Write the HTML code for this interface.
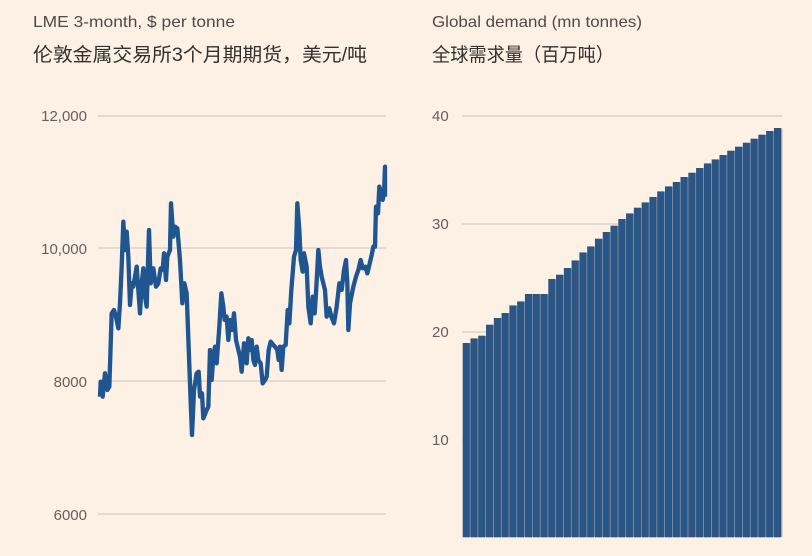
<!DOCTYPE html>
<html><head><meta charset="utf-8"><style>
body{margin:0;background:#fff1e5;}
svg{display:block}
text{font-family:"Liberation Sans","Noto Sans CJK SC",sans-serif}
</style></head><body>
<svg width="812" height="556" viewBox="0 0 812 556" xmlns="http://www.w3.org/2000/svg">
<rect width="812" height="556" fill="#fdf1e5"/>
<text x="33" y="27" font-size="16" fill="#4f4a46" textLength="202" lengthAdjust="spacingAndGlyphs">LME 3-month, $ per tonne</text>
<text x="33" y="61" font-size="19" fill="#33302e" textLength="334" lengthAdjust="spacingAndGlyphs">伦敦金属交易所3个月期期货，美元/吨</text>
<text x="432" y="27" font-size="16" fill="#4f4a46" textLength="210" lengthAdjust="spacingAndGlyphs">Global demand (mn tonnes)</text>
<text x="432" y="61" font-size="19" fill="#33302e" textLength="182" lengthAdjust="spacingAndGlyphs">全球需求量（百万吨）</text>
<g stroke="#cfc3b8" stroke-width="1">
<line x1="98" y1="116" x2="386" y2="116"/><line x1="98" y1="248" x2="386" y2="248"/>
<line x1="98" y1="381" x2="386" y2="381"/><line x1="98" y1="514" x2="386" y2="514"/>
<line x1="462" y1="116" x2="782" y2="116"/><line x1="462" y1="224" x2="782" y2="224"/>
<line x1="462" y1="332" x2="782" y2="332"/><line x1="462" y1="440" x2="782" y2="440"/>
</g>
<g font-size="15" fill="#66605c" text-anchor="end">
<text x="87" y="121">12,000</text><text x="87" y="254">10,000</text>
<text x="87" y="387">8000</text><text x="87" y="520">6000</text>
</g>
<g font-size="15" fill="#66605c">
<text x="432" y="121">40</text><text x="432" y="229">30</text>
<text x="432" y="337">20</text><text x="432" y="445">10</text>
</g>
<g transform="translate(90,150) scale(0.33333)">
<polyline fill="none" stroke="#1f5591" stroke-width="13" stroke-linejoin="round" points="30,740 32,695 38,740 45,670 52,720 58,710 65,490 72,480 78,500 85,535 90,460 95,350 100,215 105,300 110,245 115,320 120,465 125,400 130,410 140,350 145,420 150,490 155,400 160,355 165,440 170,470 177,240 182,400 190,355 198,410 205,400 212,355 218,360 222,310 228,390 232,320 240,300 243,160 250,260 255,230 262,235 270,330 277,460 283,400 290,430 297,620 303,780 306,855 312,720 320,670 326,665 330,740 336,730 340,805 350,780 355,770 360,600 365,690 370,620 375,590 380,640 388,530 394,430 400,470 404,510 410,500 415,570 420,510 426,540 432,490 438,570 444,595 450,620 455,665 462,580 470,640 475,565 480,600 485,570 490,630 495,645 500,590 505,630 512,640 518,700 525,690 530,680 536,600 542,575 550,585 555,590 562,600 566,630 570,590 575,660 580,590 587,585 593,480 598,520 604,420 612,320 618,300 622,160 628,240 632,330 638,365 642,310 650,350 655,470 662,520 668,440 674,490 678,430 685,300 690,350 695,380 705,420 710,500 718,475 724,500 732,520 740,470 748,400 755,420 762,360 768,330 772,400 775,540 780,460 790,410 798,380 805,360 812,330 818,355 826,350 832,370 838,345 845,315 850,290 855,290 858,170 864,190 868,110 874,130 878,150 882,130 885,50 885,140"/>
</g>
<g id="bgs" fill="#97a5b6"></g>
<g id="bars" fill="#27568a" stroke="#3a4f66" stroke-width="0.6"></g>
</svg>
<script>
var tops=[700,686,678,645,625,610,587,575,553,553,553,508,495,475,452,428,410,387,367,348,328,311,294,278,262,245,230,217,202,189,175,161,149,136,123,111,99,87,75,64,55];
var g=document.getElementById('bars'),b=document.getElementById('bgs'),s='',t='';
var pitch=(782-463)/tops.length;
for(var i=0;i<tops.length;i++){var y=tops[i]/3+110;var x=463+i*pitch;
t+='<rect x="'+x.toFixed(2)+'" y="'+y.toFixed(1)+'" width="'+(pitch+0.3).toFixed(2)+'" height="'+(537-y).toFixed(1)+'"/>';
s+='<rect x="'+x.toFixed(2)+'" y="'+y.toFixed(1)+'" width="'+(pitch-1.3).toFixed(2)+'" height="'+(537-y).toFixed(1)+'"/>';}
b.innerHTML=t;g.innerHTML=s;
</script>
</body></html>
